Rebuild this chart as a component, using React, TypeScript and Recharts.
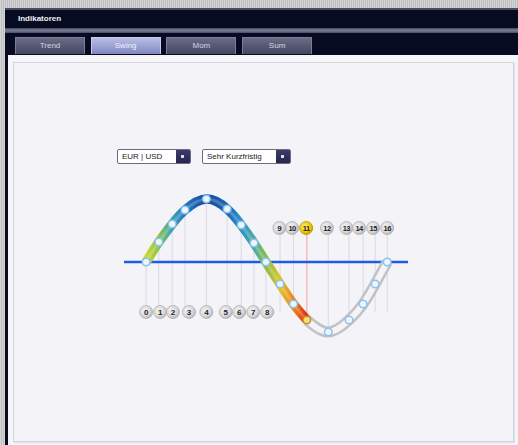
import React from "react";
import { ComposedChart, Line, Scatter, XAxis, YAxis, ReferenceLine } from "recharts";

const pointX = [0, 19, 39, 58, 90, 121, 142, 161, 179, 200, 220, 240, 272, 303, 324, 342, 360];
const pointY = [0, 20, 38, 52, 63, 53, 37, 19, 0, -22, -42, -58, -70, -58, -42, -22, 0];
const labelX = [0, 21, 40, 64, 90, 119, 139, 160, 181, 199, 218, 239, 270, 299, 318, 339, 360];
const labelNames = ["0", "1", "2", "3", "4", "5", "6", "7", "8", "9", "10", "11", "12", "13", "14", "15", "16"];
const bottomLabelY = -50;
const topLabelY = 34;
const splitIndex = 8;
const activeIndex = 11;
const tabNames = ["Trend", "Swing", "Mom", "Sum"];
const activeTab = "Swing";
const pairOption = "EUR | USD";
const horizonOption = "Sehr Kurzfristig";

const curveData = pointX.map((x, i) => ({
  x,
  y: pointY[i],
  hot: i <= activeIndex ? pointY[i] : null,
  cold: i >= activeIndex ? pointY[i] : null,
  i,
}));

const labelData = labelX.map((x, i) => ({
  x,
  y: i <= splitIndex ? bottomLabelY : topLabelY,
  name: labelNames[i],
  i,
}));

const guideSegments = pointX.map((x, i) => {
  const y1 = i <= splitIndex ? pointY[i] : topLabelY;
  const y2 = i <= splitIndex ? bottomLabelY : Math.min(pointY[i], bottomLabelY);
  return { x, y1, y2, i };
});

const font = "'Liberation Sans', Arial, sans-serif";

const PointShape = (props: any) => {
  const { cx, cy, payload } = props;
  const active = payload.i === activeIndex;
  return (
    <circle
      cx={cx}
      cy={cy}
      r={3.8}
      fill={active ? "#f6dc80" : "#eef6fc"}
      stroke={active ? "#c89020" : "#88c2ee"}
      strokeWidth={1.5}
    />
  );
};

const LabelShape = (props: any) => {
  const { cx, cy, payload } = props;
  const active = payload.i === activeIndex;
  return (
    <g>
      <circle cx={cx} cy={cy} r={6.5} fill={active ? "url(#lblActive)" : "url(#lbl)"} stroke={active ? "#b89000" : "#b0b0b4"} strokeWidth={0.8} />
      <text
        x={cx}
        y={cy + 3}
        textAnchor="middle"
        fontFamily={font}
        fontSize={payload.name.length > 1 ? 7.5 : 8}
        fontWeight="bold"
        fill="#222"
        letterSpacing={payload.name.length > 1 ? -0.5 : 0}
      >
        {payload.name}
      </text>
    </g>
  );
};

const Tab = ({ name, left }: { name: string; left: number }) => {
  const active = name === activeTab;
  return (
    <div
      style={{
        position: "absolute",
        left,
        top: 37,
        width: 70,
        height: 17,
        boxSizing: "border-box",
        border: "1px solid " + (active ? "#c8ccee" : "#7c7e98"),
        borderBottom: "none",
        background: active
          ? "linear-gradient(#b8bde6, #8088c0)"
          : "linear-gradient(#6a6c88, #44465e)",
        color: active ? "#eef0ff" : "#d4d6e4",
        fontFamily: font,
        fontSize: 8,
        textAlign: "center",
        lineHeight: "16px",
      }}
    >
      {name}
    </div>
  );
};

const Dropdown = ({ label, left, width }: { label: string; left: number; width: number }) => (
  <div
    style={{
      position: "absolute",
      left,
      top: 149,
      width,
      height: 15,
      boxSizing: "border-box",
      border: "1px solid #6c6c7c",
      borderRadius: 2,
      background: "#fff",
      fontFamily: font,
      fontSize: 8,
      color: "#222",
      lineHeight: "13px",
      paddingLeft: 4,
      overflow: "hidden",
    }}
  >
    {label}
    <div
      style={{
        position: "absolute",
        right: 0,
        top: 0,
        width: 14,
        height: 13,
        background: "linear-gradient(#3c3c6c, #24244c)",
      }}
    >
      <div style={{ position: "absolute", left: 5, top: 5, width: 3, height: 3, background: "#dcdce8" }} />
    </div>
  </div>
);

export default function App() {
  return (
    <div
      style={{
        position: "absolute",
        left: 0,
        top: 0,
        width: 518,
        height: 445,
        overflow: "hidden",
        background: "repeating-linear-gradient(90deg, #d6d6d6 0px, #d6d6d6 1px, #bdbdbd 1px, #bdbdbd 2px)",
      }}
    >
      <div style={{ position: "absolute", left: 5, top: 8, width: 513, height: 437, background: "#060b22", borderTop: "2px solid #4a4c60", boxSizing: "border-box" }} />
      <div style={{ position: "absolute", left: 5, top: 28, width: 513, height: 5, background: "linear-gradient(#4a4c66, #7a7c96, #4a4c66)" }} />
      <div style={{ position: "absolute", left: 18, top: 14, color: "#f0f0f8", fontFamily: font, fontSize: 8, fontWeight: "bold" }}>Indikatoren</div>
      {tabNames.map((t, i) => (
        <Tab key={t} name={t} left={15 + i * 75.7} />
      ))}
      <div style={{ position: "absolute", left: 8, top: 55, width: 510, height: 390, background: "#f6f6fa" }} />
      <div
        style={{
          position: "absolute",
          left: 13,
          top: 62,
          width: 501,
          height: 380,
          boxSizing: "border-box",
          border: "1px solid #d4d4dc",
          boxShadow: "1px 1px 1px #e0e0e8",
          background: "#f3f3f8",
        }}
      />
      <Dropdown label={pairOption} left={117} width={74} />
      <Dropdown label={horizonOption} left={202} width={89} />
      <div style={{ position: "absolute", left: 0, top: 0 }}>
        <ComposedChart
          width={518}
          height={445}
          data={curveData}
          margin={{ top: 182, right: 110, bottom: 103, left: 124 }}
        >
          <defs>
            <linearGradient id="hotGrad" x1="0" y1="0" x2="1" y2="0">
              <stop offset="0" stopColor="#c8d82c" />
              <stop offset="0.08" stopColor="#8cc450" />
              <stop offset="0.16" stopColor="#3ca2b4" />
              <stop offset="0.25" stopColor="#2474c0" />
              <stop offset="0.37" stopColor="#164c9c" />
              <stop offset="0.5" stopColor="#1e66b4" />
              <stop offset="0.59" stopColor="#2e90cc" />
              <stop offset="0.67" stopColor="#4eaaa4" />
              <stop offset="0.75" stopColor="#8cbe44" />
              <stop offset="0.83" stopColor="#dcc42c" />
              <stop offset="0.91" stopColor="#f08c1c" />
              <stop offset="1" stopColor="#dc2c14" />
            </linearGradient>
            <radialGradient id="lbl" cx="0.4" cy="0.4" r="0.7">
              <stop offset="0" stopColor="#f4f4f4" />
              <stop offset="0.6" stopColor="#d8d8da" />
              <stop offset="1" stopColor="#a4a4a8" />
            </radialGradient>
            <radialGradient id="lblActive" cx="0.4" cy="0.4" r="0.7">
              <stop offset="0" stopColor="#fff080" />
              <stop offset="0.6" stopColor="#f0c800" />
              <stop offset="1" stopColor="#c09000" />
            </radialGradient>
          </defs>
          <XAxis type="number" dataKey="x" domain={[-33, 391]} hide />
          <YAxis type="number" domain={[-80, 80]} hide />
          {guideSegments.map((s) => (
            <ReferenceLine
              key={"g" + s.i}
              segment={[
                { x: s.x, y: s.y1 },
                { x: s.x, y: s.y2 },
              ]}
              stroke={s.i === activeIndex ? "#f4a0a0" : "#dadae2"}
              strokeWidth={1}
            />
          ))}
          <ReferenceLine y={0} stroke="#1e5ce6" strokeWidth={2.5} />
          <Line dataKey="cold" type="natural" stroke="#c2c2c6" strokeWidth={11} dot={false} isAnimationActive={false} connectNulls={false} />
          <Line dataKey="cold" type="natural" stroke="#f4f4f6" strokeWidth={6} dot={false} isAnimationActive={false} connectNulls={false} />
          <Line dataKey="hot" type="natural" stroke="url(#hotGrad)" strokeWidth={9.5} dot={false} isAnimationActive={false} connectNulls={false} />
          <Line dataKey="hot" type="natural" stroke="rgba(255,255,255,0.2)" strokeWidth={3} dot={false} isAnimationActive={false} connectNulls={false} />
          <Scatter data={curveData} dataKey="y" shape={PointShape} isAnimationActive={false} />
          <Scatter data={labelData} dataKey="y" shape={LabelShape} isAnimationActive={false} />
        </ComposedChart>
      </div>
    </div>
  );
}
